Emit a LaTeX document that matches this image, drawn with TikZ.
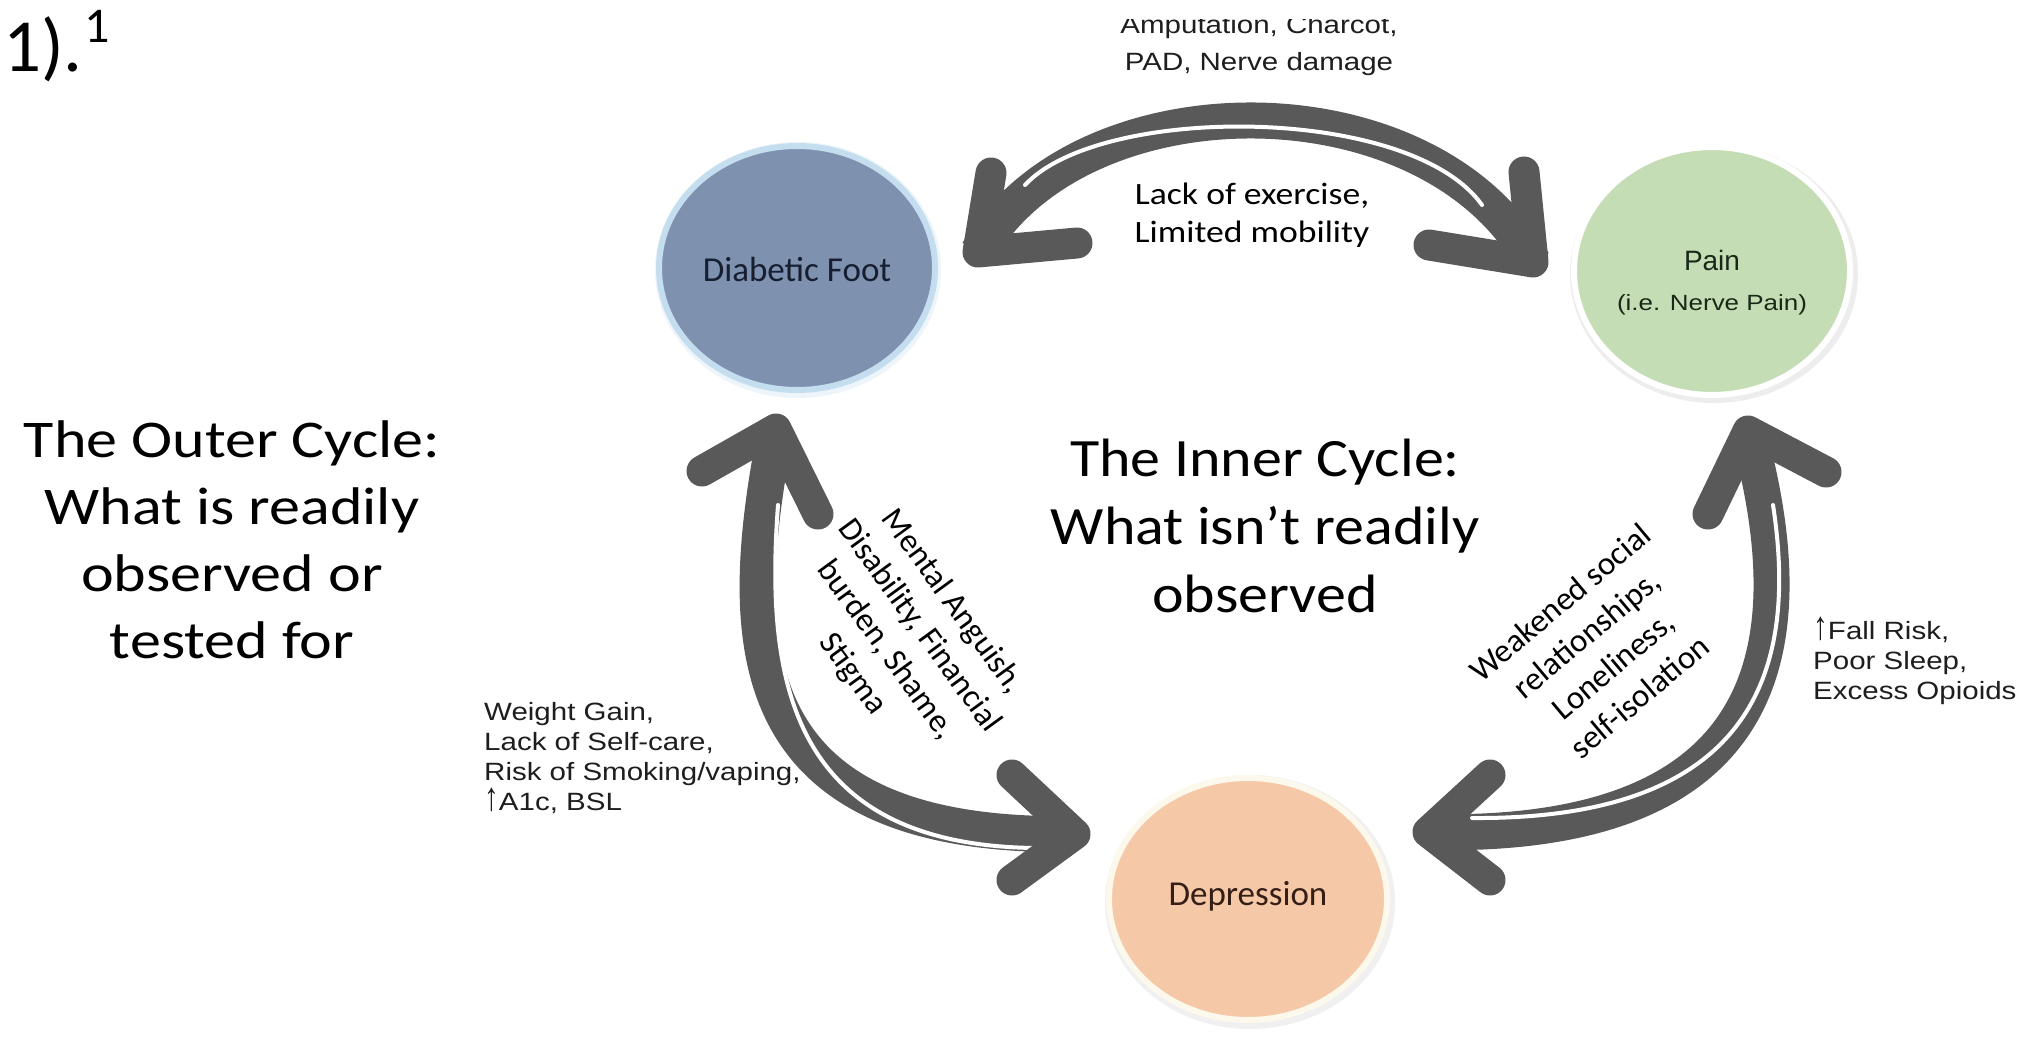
\documentclass[tikz,border=0pt]{standalone}
\usepackage{graphicx}
\usepackage{fontspec}
\setmainfont{Carlito}
\newfontfamily\arialf{Liberation Sans}
\usetikzlibrary{shapes.geometric}
\definecolor{arrowgray}{HTML}{595959}
\definecolor{footfill}{RGB}{126,146,176}
\definecolor{footring}{RGB}{196,222,240}
\definecolor{painfill}{RGB}{197,221,181}
\definecolor{depfill}{RGB}{245,201,168}
\definecolor{depring}{RGB}{252,248,236}
\definecolor{navytext}{RGB}{22,30,48}
\definecolor{greentext}{RGB}{26,40,24}
\definecolor{browntext}{RGB}{52,30,22}
\definecolor{labeltext}{RGB}{30,30,30}
\newcommand\topstrut{\rule{0pt}{0.9em}}
\newcommand\botstrut{\rule[-0.25em]{0pt}{0.25em}}
\newcommand\hsc[2]{\scalebox{#1}[1]{#2}}
\newcommand\uparr{\scalebox{1.0}[1.6]{↑}}
\begin{document}
\begin{tikzpicture}[x=1pt,y=-1pt,
  arrbody/.style={draw=arrowgray,line width=36pt,line cap=butt},
  chevron/.style={draw=arrowgray,line width=31pt,line cap=round,line join=round},
  gapline/.style={draw=white,line width=4pt,line cap=round},
  bubble/.style={ellipse,inner sep=0pt,line width=6pt},
  lbl/.style={inner sep=0pt,text=black},
]
\fill[white] (0,0) rectangle (2041,1046);
\useasboundingbox (0,0) rectangle (2041,1046);

% halos / shadows
\fill[footring!30] (798,270) ellipse [x radius=143, y radius=128];
\fill[black!7] (1714,274) ellipse [x radius=144, y radius=129];
\fill[black!6] (1250,902) ellipse [x radius=145, y radius=127];

% bubbles
\node[bubble, fill=footfill, draw=footring, minimum width=276pt, minimum height=244pt] (foot) at (797,268) {};
\node[bubble, fill=painfill, draw=white, minimum width=276pt, minimum height=248pt] (pain) at (1712,271) {};
\node[bubble, fill=depfill, draw=depring, minimum width=278pt, minimum height=242pt] (dep) at (1248,899) {};

\node[lbl, anchor=base, font=\fontsize{35}{42}\selectfont, text=navytext] (footlbl) at (797,281) {Diabetic Foot};
\node[lbl, anchor=base, font=\arialf\fontsize{28}{34}\selectfont, text=greentext] (painlbl) at (1712,270) {Pain};
\node[lbl, anchor=base, font=\arialf\fontsize{22}{26}\selectfont, text=greentext] (painsub) at (1712,310) {\hsc{1.18}{(i.e. Nerve Pain)}};
\node[lbl, anchor=base, font=\fontsize{35}{42}\selectfont, text=browntext] (deplbl) at (1248,905) {Depression};

% arrow end points
\coordinate (tL) at (978,252);
\coordinate (tR) at (1533,262);
\coordinate (lT) at (776,429);
\coordinate (lB) at (1075,834);
\coordinate (rT) at (1748,431);
\coordinate (rB) at (1428,832);

% bodies
\draw[arrbody] (tL) .. controls (1080,75) and (1430,75) .. (tR);
\draw[arrbody] (lT) .. controls (735,640) and (735,840) .. (lB);
\draw[arrbody] (rT) .. controls (1805,640) and (1780,840) .. (rB);

% white separation lines
\draw[gapline] (1025,185) .. controls (1100,104) and (1410,104) .. (1482,205);
\draw[gapline] (778,505) .. controls (765,680) and (790,845) .. (1035,848);
\draw[gapline] (1773,505) .. controls (1800,680) and (1745,820) .. (1472,818);

% heads
\draw[chevron] (991,173) -- (tL) -- (1077,243);
\draw[chevron] (1524,172) -- (tR) -- (1429,245);
\draw[chevron] (702,471) -- (lT) -- (818,514);
\draw[chevron] (1012,775) -- (lB) -- (1012,880);
\draw[chevron] (1826,472) -- (rT) -- (1708,514);
\draw[chevron] (1490,775) -- (rB) -- (1490,880);

% top labels
\begin{scope}
\clip (1000,20) rectangle (1500,120);
\node[lbl, anchor=north, align=center, text=labeltext, font=\arialf\fontsize{25}{37}\selectfont] (topout) at (1259,10.5) {\topstrut\hsc{1.18}{Amputation, Charcot,}\\\hsc{1.18}{PAD, Nerve damage}};
\end{scope}
\node[lbl, anchor=north, align=center, font=\fontsize{31}{38}\selectfont] (topin) at (1252,176.1) {\topstrut\hsc{1.15}{Lack of exercise,}\\\hsc{1.15}{Limited mobility}};

% cycle titles
\node[lbl, anchor=north, align=center, font=\fontsize{53}{67}\selectfont] (outer) at (232,409.3) {\topstrut\hsc{1.17}{The Outer Cycle:}\\\hsc{1.17}{What is readily}\\\hsc{1.17}{observed or}\\\hsc{1.17}{tested for}};
\node[lbl, anchor=north, align=center, font=\fontsize{54}{68}\selectfont] (inner) at (1265,427.4) {\topstrut\hsc{1.11}{The Inner Cycle:}\\\hsc{1.11}{What isn’t readily}\\\hsc{1.11}{observed}};

% rotated inner labels
\node[lbl, align=center, rotate=-54, font=\fontsize{33}{41}\selectfont] (midL) at (904,637) {\topstrut Mental Anguish,\\Disability, Financial\\burden, Shame,\\Stigma\botstrut};
\node[lbl, align=center, rotate=40, font=\fontsize{33}{41}\selectfont] (midR) at (1600,650) {\topstrut Weakened social\\relationships,\\Loneliness,\\self-isolation\botstrut};

% outer side labels
\node[lbl, anchor=north west, align=left, text=labeltext, font=\arialf\fontsize{25}{30}\selectfont] (outL) at (484,697.5) {\topstrut\hsc{1.18}{Weight Gain,}\\\hsc{1.18}{Lack of Self-care,}\\\hsc{1.18}{Risk of Smoking/vaping,}\\\hsc{1.18}{\uparr A1c, BSL}};
\node[lbl, anchor=north west, align=left, text=labeltext, font=\arialf\fontsize{25}{30}\selectfont] (outR) at (1813,616.5) {\topstrut\hsc{1.18}{\uparr Fall Risk,}\\\hsc{1.18}{Poor Sleep,}\\\hsc{1.18}{Excess Opioids}};

% reference mark
\node[lbl, anchor=base west, font=\fontsize{75}{90}\selectfont] (num) at (3,72) {1).};
\node[lbl, anchor=base west, font=\fontsize{50}{60}\selectfont] (sup) at (84,43) {1};
\end{tikzpicture}
\end{document}
